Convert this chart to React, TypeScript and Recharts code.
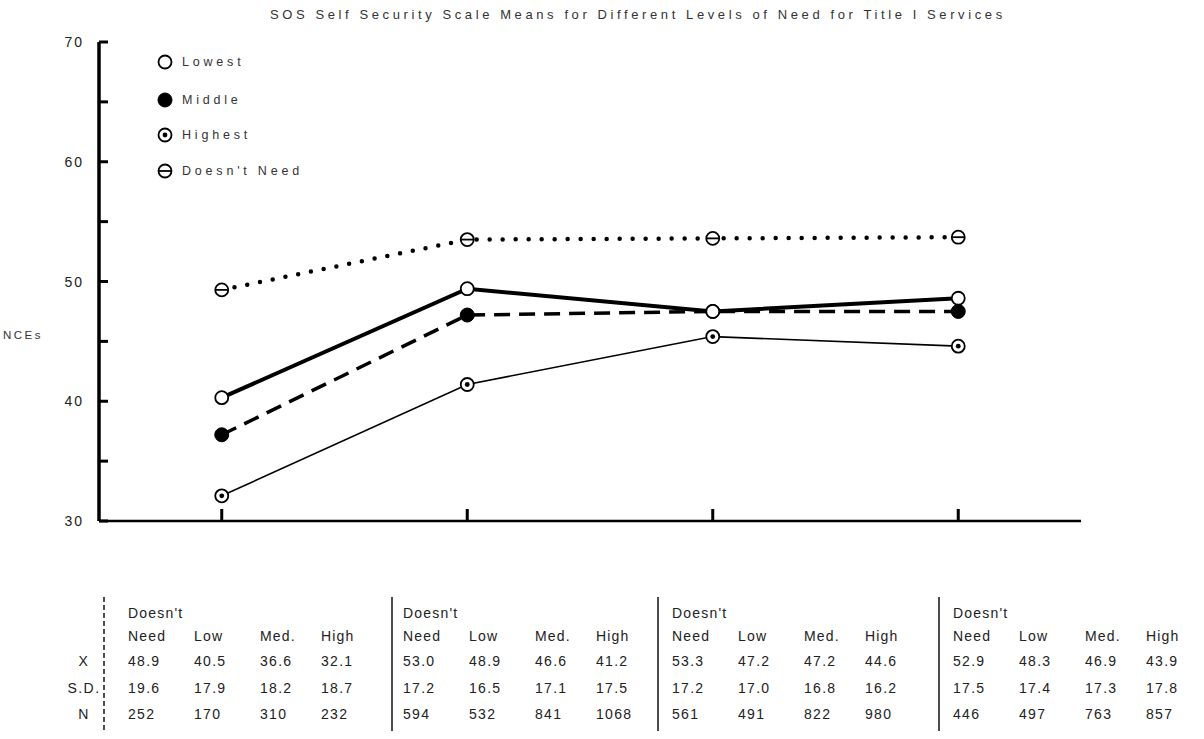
import React from 'react';
import { LineChart, Line, XAxis, YAxis, Legend } from 'recharts';

// ---------- data ----------
const categories = ['Group 1', 'Group 2', 'Group 3', 'Group 4'];

// values as plotted in the chart
const doesntNeedPlotted = [49.3, 53.5, 53.6, 53.7];
const lowestPlotted = [40.3, 49.4, 47.5, 48.6];
const middlePlotted = [37.2, 47.2, 47.5, 47.5];
const highestPlotted = [32.1, 41.4, 45.4, 44.6];

// values printed in the table under the chart
const doesntNeedMeans = [48.9, 53.0, 53.3, 52.9];
const lowestMeans = [40.5, 48.9, 47.2, 48.3];
const middleMeans = [36.6, 46.6, 47.2, 46.9];
const highestMeans = [32.1, 41.2, 44.6, 43.9];
const doesntNeedSD = [19.6, 17.2, 17.2, 17.5];
const lowestSD = [17.9, 16.5, 17.0, 17.4];
const middleSD = [18.2, 17.1, 16.8, 17.3];
const highestSD = [18.7, 17.5, 16.2, 17.8];
const doesntNeedN = [252, 594, 561, 446];
const lowestN = [170, 532, 491, 497];
const middleN = [310, 841, 822, 763];
const highestN = [232, 1068, 980, 857];

const yTicks = [30, 35, 40, 45, 50, 55, 60, 65, 70];
const yTickLabels = ['30', '', '40', '', '50', '', '60', '', '70'];
const legendLabels = ['Lowest', 'Middle', 'Highest', "Doesn't Need"];
const legendKinds = ['open', 'filled', 'target', 'theta'];
const tableHeaderTop = ["Doesn't", '', '', ''];
const tableHeaderBottom = ['Need', 'Low', 'Med.', 'High'];
const rowLabels = ['X', 'S.D.', 'N'];
const yAxisLabel = 'NCEs';
const title = 'SOS Self Security Scale Means for Different Levels of Need for Title I Services';

const chartData = categories.map((c, i) => ({
  name: c,
  idx: i,
  dn: doesntNeedPlotted[i],
  low: lowestPlotted[i],
  mid: middlePlotted[i],
  high: highestPlotted[i],
}));

// ---------- layout ----------
const FONT = '"Liberation Sans", Arial, Helvetica, sans-serif';
const groupX = [128, 403, 672, 953];
const colOffsets = [0, 66, 132, 193];
const rowY = [613, 636, 661, 688, 714];
const separators = [
  { x: 104, dashed: true },
  { x: 392, dashed: false },
  { x: 658, dashed: false },
  { x: 939, dashed: false },
];

function Marker({ kind, cx, cy }: { kind: string; cx: number; cy: number }) {
  if (kind === 'filled') return <circle cx={cx} cy={cy} r={7} fill="#000" stroke="#000" strokeWidth={1} />;
  if (kind === 'open')
    return <circle cx={cx} cy={cy} r={6.5} fill="#fff" stroke="#000" strokeWidth={1.8} />;
  if (kind === 'target')
    return (
      <g>
        <circle cx={cx} cy={cy} r={6.5} fill="#fff" stroke="#000" strokeWidth={1.8} />
        <circle cx={cx} cy={cy} r={2.4} fill="#000" />
      </g>
    );
  return (
    <g>
      <circle cx={cx} cy={cy} r={6.5} fill="#fff" stroke="#000" strokeWidth={1.8} />
      <line x1={cx - 6} x2={cx + 6} y1={cy} y2={cy} stroke="#000" strokeWidth={1.8} />
    </g>
  );
}

const makeDot = (kind: string) => (props: any) => {
  const { cx, cy, index, dataKey } = props;
  if (cx == null || cy == null) return <g key={`${dataKey}-${index}`} />;
  return (
    <g key={`${dataKey}-${index}`}>
      <Marker kind={kind} cx={cx} cy={cy} />
    </g>
  );
};

const YTick = (props: any) => {
  const { x, y, payload } = props;
  const i = yTicks.indexOf(payload.value);
  const label = i >= 0 ? yTickLabels[i] : '';
  return (
    <g>
      <line x1={x + 14} x2={x + 23} y1={y} y2={y} stroke="#000" strokeWidth={3} />
      {label ? (
        <text
          x={x - 1}
          y={y}
          textAnchor="end"
          dominantBaseline="central"
          fontSize={14}
          letterSpacing={2}
          fill="#222"
          fontFamily={FONT}
        >
          {label}
        </text>
      ) : null}
    </g>
  );
};

const XTick = (props: any) => {
  const { x, y } = props;
  return <line x1={x} x2={x} y1={y} y2={y - 12} stroke="#000" strokeWidth={3} />;
};

const LegendContent = () => (
  <svg width={260} height={140} style={{ overflow: 'visible' }}>
    {legendLabels.map((lab, i) => {
      const cy = [12, 50, 85, 121][i];
      return (
        <g key={lab}>
          <Marker kind={legendKinds[i]} cx={15} cy={cy} />
          <text
            x={32}
            y={cy}
            dominantBaseline="central"
            fontSize={12.5}
            letterSpacing={3.8}
            fill="#333"
            fontFamily={FONT}
          >
            {lab}
          </text>
        </g>
      );
    })}
  </svg>
);

const fmt1 = (v: number) => v.toFixed(1);

export default function App() {
  const meanCols = [doesntNeedMeans, lowestMeans, middleMeans, highestMeans];
  const sdCols = [doesntNeedSD, lowestSD, middleSD, highestSD];
  const nCols = [doesntNeedN, lowestN, middleN, highestN];
  const cell = { dominantBaseline: 'central' as const, fontSize: 14, fill: '#222' };

  return (
    <div style={{ position: 'relative', width: 1204, height: 739, background: '#fff', fontFamily: FONT, overflow: 'hidden' }}>
      <style>{`body{margin:0;background:#fff;}`}</style>
      <div style={{ position: 'absolute', left: 0, top: 0 }}>
        <LineChart
          width={1204}
          height={541}
          data={chartData}
          margin={{ top: 42, right: 123, bottom: 0, left: 0 }}
        >
          <XAxis
            type="number"
            dataKey="idx"
            domain={[-0.5, 3.5]}
            ticks={[0, 1, 2, 3]}
            interval={0}
            height={20}
            axisLine={{ stroke: '#000', strokeWidth: 2.5 }}
            tickLine={false}
            tickSize={0}
            tickMargin={0}
            tick={XTick}
            allowDataOverflow
          />
          <YAxis
            type="number"
            domain={[30, 70]}
            ticks={yTicks}
            interval={0}
            width={99}
            axisLine={{ stroke: '#000', strokeWidth: 3.5 }}
            tickLine={false}
            tickSize={0}
            tickMargin={14}
            tick={YTick}
            allowDataOverflow
          />
          <Legend
            layout="vertical"
            align="center"
            verticalAlign="middle"
            content={LegendContent}
            wrapperStyle={{ left: 150, top: 50, width: 260, height: 140 }}
          />
          <Line
            dataKey="dn"
            name="Doesn't Need"
            stroke="#000"
            strokeWidth={4.5}
            strokeDasharray="0 13"
            strokeLinecap="round"
            dot={makeDot('theta')}
            activeDot={false}
            isAnimationActive={false}
          />
          <Line
            dataKey="high"
            name="Highest"
            stroke="#000"
            strokeWidth={1.6}
            dot={makeDot('target')}
            activeDot={false}
            isAnimationActive={false}
          />
          <Line
            dataKey="mid"
            name="Middle"
            stroke="#000"
            strokeWidth={3.5}
            strokeDasharray="16 9"
            dot={makeDot('filled')}
            activeDot={false}
            isAnimationActive={false}
          />
          <Line
            dataKey="low"
            name="Lowest"
            stroke="#000"
            strokeWidth={4}
            dot={makeDot('open')}
            activeDot={false}
            isAnimationActive={false}
          />
        </LineChart>
      </div>

      <svg
        width={1204}
        height={739}
        style={{ position: 'absolute', left: 0, top: 0, pointerEvents: 'none' }}
        fontFamily={FONT}
      >
        <text x={270} y={14} dominantBaseline="central" fontSize={13} letterSpacing={3.6} fill="#333">
          {title}
        </text>
        <text x={3} y={335} dominantBaseline="central" fontSize={11.5} letterSpacing={2.5} fill="#333">
          {yAxisLabel}
        </text>

        {separators.map((s, i) => (
          <line
            key={i}
            x1={s.x}
            x2={s.x}
            y1={597}
            y2={731}
            stroke="#000"
            strokeWidth={1.4}
            strokeDasharray={s.dashed ? '5 3' : undefined}
          />
        ))}

        {rowLabels.map((lab, r) => (
          <text key={lab} x={84} y={rowY[2 + r]} textAnchor="middle" letterSpacing={1.5} {...cell}>
            {lab}
          </text>
        ))}

        {categories.map((c, g) => (
          <g key={c}>
            {tableHeaderBottom.map((h, k) => {
              const x = groupX[g] + colOffsets[k];
              return (
                <g key={h}>
                  {tableHeaderTop[k] ? (
                    <text x={x} y={rowY[0]} letterSpacing={1.2} {...cell}>
                      {tableHeaderTop[k]}
                    </text>
                  ) : null}
                  <text x={x} y={rowY[1]} letterSpacing={1.2} {...cell}>
                    {h}
                  </text>
                  <text x={x} y={rowY[2]} letterSpacing={1.3} {...cell}>
                    {fmt1(meanCols[k][g])}
                  </text>
                  <text x={x} y={rowY[3]} letterSpacing={1.3} {...cell}>
                    {fmt1(sdCols[k][g])}
                  </text>
                  <text x={x} y={rowY[4]} letterSpacing={1.3} {...cell}>
                    {nCols[k][g]}
                  </text>
                </g>
              );
            })}
          </g>
        ))}
      </svg>
    </div>
  );
}
